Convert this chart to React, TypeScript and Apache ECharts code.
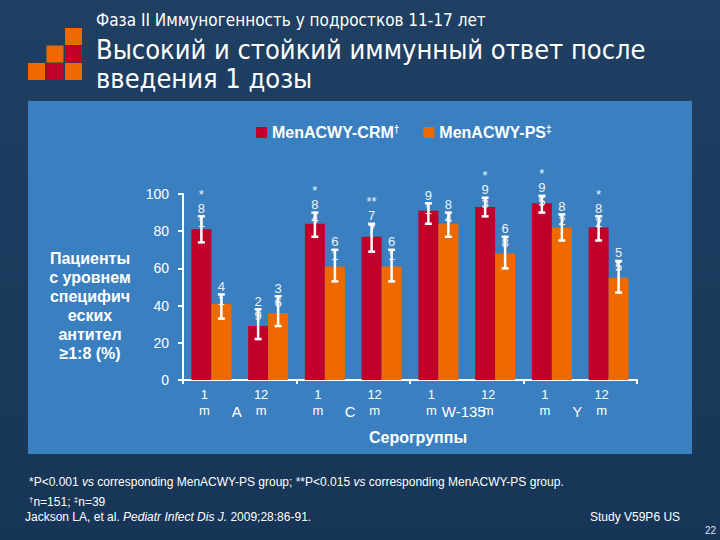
import React, { useEffect, useRef } from "react";
import * as echarts from "echarts";

// ---- data ----
const timepoints = ["1 m", "12 m", "1 m", "12 m", "1 m", "12 m", "1 m", "12 m"];
const serogroups = ["A", "C", "W-135", "Y"];
const crmName = "MenACWY-CRM";
const psName = "MenACWY-PS";
const crmValues = [81, 29, 84, 77, 91, 93, 95, 82];
const crmLow = [74, 22, 77, 69, 84, 88, 90, 75];
const crmHigh = [88, 38, 90, 84, 95, 98, 99, 88];
const crmMarks = ["*", "", "*", "**", "", "*", "*", "*"];
const psValues = [41, 36, 61, 61, 84, 68, 82, 55];
const psLow = [33, 29, 53, 53, 77, 60, 75, 47];
const psHigh = [46, 45, 70, 70, 90, 77, 89, 64];
const yMin = 0;
const yMax = 100;
const yInterval = 20;

const CRM_COLOR = "#c00028";
const PS_COLOR = "#ee6a00";
const ARIAL = '"Liberation Sans", Arial, sans-serif';
const TITLE_FONT = '"DejaVu Sans Condensed", "DejaVu Sans", sans-serif';

function makeErrorSeries(values: number[], low: number[], high: number[], marks: string[], offset: number) {
  return {
    type: "custom",
    xAxisIndex: 0,
    yAxisIndex: 0,
    z: 5,
    silent: true,
    data: values.map((v, i) => [i, low[i], high[i], v]),
    renderItem: (params: any, api: any) => {
      const i = api.value(0);
      const idx = params.dataIndex;
      const x = api.coord([i, 0])[0] + offset;
      const yl = api.coord([i, api.value(1)])[1];
      const yh = api.coord([i, api.value(2)])[1];
      const digits = String(values[idx]).split("").join("\n");
      const text = marks[idx] ? marks[idx] + "\n" + digits : digits;
      const cap = 3.5;
      const st = { stroke: "#ffffff", lineWidth: 2.5 };
      return {
        type: "group",
        children: [
          {
            type: "text",
            x,
            y: yh + 13,
            style: {
              text,
              fill: "#eef3f8",
              font: `13px ${ARIAL}`,
              align: "center",
              verticalAlign: "bottom",
              lineHeight: 14,
            },
          },
          { type: "line", shape: { x1: x, y1: yl, x2: x, y2: yh }, style: st },
          { type: "line", shape: { x1: x - cap, y1: yh, x2: x + cap, y2: yh }, style: st },
          { type: "line", shape: { x1: x - cap, y1: yl, x2: x + cap, y2: yl }, style: st },
        ],
      };
    },
  };
}

export default function App() {
  const ref = useRef<HTMLDivElement>(null);
  useEffect(() => {
    if (!ref.current) return;
    const chart = echarts.init(ref.current, null, { renderer: "svg" });
    const sq = 17;
    const logoCells = [
      [2, 0, PS_COLOR],
      [1, 1, PS_COLOR],
      [2, 1, CRM_COLOR],
      [0, 2, PS_COLOR],
      [1, 2, CRM_COLOR],
      [2, 2, PS_COLOR],
    ];
    const option: any = {
      animation: false,
      backgroundColor: new echarts.graphic.LinearGradient(0, 0, 0, 1, [
        { offset: 0, color: "#1f4063" },
        { offset: 1, color: "#173557" },
      ]),
      textStyle: { fontFamily: ARIAL },
      legend: {
        data: [crmName, psName],
        left: 256,
        top: 124,
        padding: 0,
        itemWidth: 11,
        itemHeight: 11,
        itemGap: 24,
        icon: "rect",
        formatter: (name: string) => (name === crmName ? `${name}{s|†}` : `${name}{s|‡}`),
        textStyle: {
          color: "#ffffff",
          fontWeight: "bold",
          fontSize: 16,
          fontFamily: ARIAL,
          rich: { s: { color: "#ffffff", fontSize: 10, fontWeight: "bold", padding: [0, 0, 7, 0] } },
        },
      },
      grid: { left: 183, right: 83, top: 194, bottom: 160, containLabel: false },
      xAxis: [
        {
          type: "category",
          data: timepoints,
          axisLine: { show: true, lineStyle: { color: "#ffffff", width: 2 } },
          axisTick: { show: false },
          axisLabel: {
            color: "#ffffff",
            fontSize: 13,
            lineHeight: 16,
            margin: 6,
            padding: [0, 14, 0, 0],
            formatter: (v: string) => v.replace(" ", "\n"),
          },
        },
        {
          type: "category",
          data: serogroups,
          position: "bottom",
          axisLine: { show: true, lineStyle: { color: "#ffffff", width: 2 } },
          axisTick: { show: true, length: 4, lineStyle: { color: "#ffffff", width: 2 } },
          axisLabel: { color: "#ffffff", fontSize: 15, margin: 24, padding: [0, 6, 0, 0] },
        },
      ],
      yAxis: {
        type: "value",
        min: yMin,
        max: yMax,
        interval: yInterval,
        splitLine: { show: false },
        axisLine: { show: true, lineStyle: { color: "#ffffff", width: 2 } },
        axisTick: { show: true, length: 5, lineStyle: { color: "#ffffff", width: 2 } },
        axisLabel: { color: "#ffffff", fontSize: 14, margin: 14 },
      },
      series: [
        {
          name: crmName,
          type: "bar",
          data: crmValues,
          barWidth: 20,
          barGap: "0%",
          itemStyle: { color: CRM_COLOR },
        },
        {
          name: psName,
          type: "bar",
          data: psValues,
          barWidth: 20,
          barGap: "0%",
          itemStyle: { color: PS_COLOR },
        },
        makeErrorSeries(crmValues, crmLow, crmHigh, crmMarks, -10),
        makeErrorSeries(psValues, psLow, psHigh, psValues.map(() => ""), 10),
      ],
      graphic: [
        {
          type: "rect",
          z: -10,
          shape: { x: 28, y: 101, width: 664, height: 353 },
          style: { fill: "#3a80c0" },
        },
        ...logoCells.map((c) => ({
          type: "rect",
          z: 1,
          shape: { x: 28 + (c[0] as number) * 18.5, y: 28 + (c[1] as number) * 17.5, width: sq, height: sq },
          style: { fill: c[2] as string },
        })),
        {
          type: "text",
          left: 96,
          top: 11,
          style: { text: "Фаза II Иммуногенность у подростков 11-17 лет", fill: "#ffffff", font: `17px ${TITLE_FONT}` },
        },
        {
          type: "text",
          x: 96,
          y: 49,
          style: {
            text: "Высокий и стойкий иммунный ответ после",
            fill: "#ffffff",
            font: `27px ${TITLE_FONT}`,
            verticalAlign: "middle",
          },
        },
        {
          type: "text",
          x: 96,
          y: 78,
          style: {
            text: "введения 1 дозы",
            fill: "#ffffff",
            font: `27px ${TITLE_FONT}`,
            verticalAlign: "middle",
          },
        },
        {
          type: "text",
          x: 90,
          y: 306,
          style: {
            text: "Пациенты\nс уровнем\nспецифич\nеских\nантител\n≥1:8 (%)",
            fill: "#ffffff",
            font: `bold 16px ${ARIAL}`,
            align: "center",
            verticalAlign: "middle",
            lineHeight: 19,
          },
        },
        {
          type: "text",
          x: 418,
          y: 437,
          style: {
            text: "Серогруппы",
            fill: "#ffffff",
            font: `bold 16px ${ARIAL}`,
            align: "center",
            verticalAlign: "middle",
          },
        },
        {
          type: "text",
          x: 29,
          y: 482,
          style: {
            text: "*P<0.001 {i|vs} corresponding MenACWY-PS group; **P<0.015 {i|vs} corresponding MenACWY-PS group.",
            fill: "#ffffff",
            font: `12px ${ARIAL}`,
            verticalAlign: "middle",
            rich: { i: { fontStyle: "italic", fontSize: 12, fill: "#ffffff" } },
          },
        },
        {
          type: "text",
          x: 29,
          y: 502,
          style: {
            text: "{s|†}n=151; {s|‡}n=39",
            fill: "#ffffff",
            font: `12px ${ARIAL}`,
            verticalAlign: "middle",
            rich: { s: { fontSize: 8, fill: "#ffffff", padding: [0, 0, 6, 0] } },
          },
        },
        {
          type: "text",
          x: 25,
          y: 517,
          style: {
            text: "Jackson LA, et al. {i|Pediatr Infect Dis J.} 2009;28:86-91.",
            fill: "#ffffff",
            font: `12px ${ARIAL}`,
            verticalAlign: "middle",
            rich: { i: { fontStyle: "italic", fontSize: 12, fill: "#ffffff" } },
          },
        },
        {
          type: "text",
          x: 590,
          y: 517,
          style: { text: "Study V59P6 US", fill: "#ffffff", font: `12px ${ARIAL}`, verticalAlign: "middle" },
        },
        {
          type: "text",
          x: 705,
          y: 530,
          style: { text: "22", fill: "#dde6ef", font: `10px ${ARIAL}`, verticalAlign: "middle" },
        },
      ],
    };
    chart.setOption(option);
    return () => chart.dispose();
  }, []);
  return <div ref={ref} style={{ position: "absolute", left: 0, top: 0, width: 720, height: 540 }} />;
}
